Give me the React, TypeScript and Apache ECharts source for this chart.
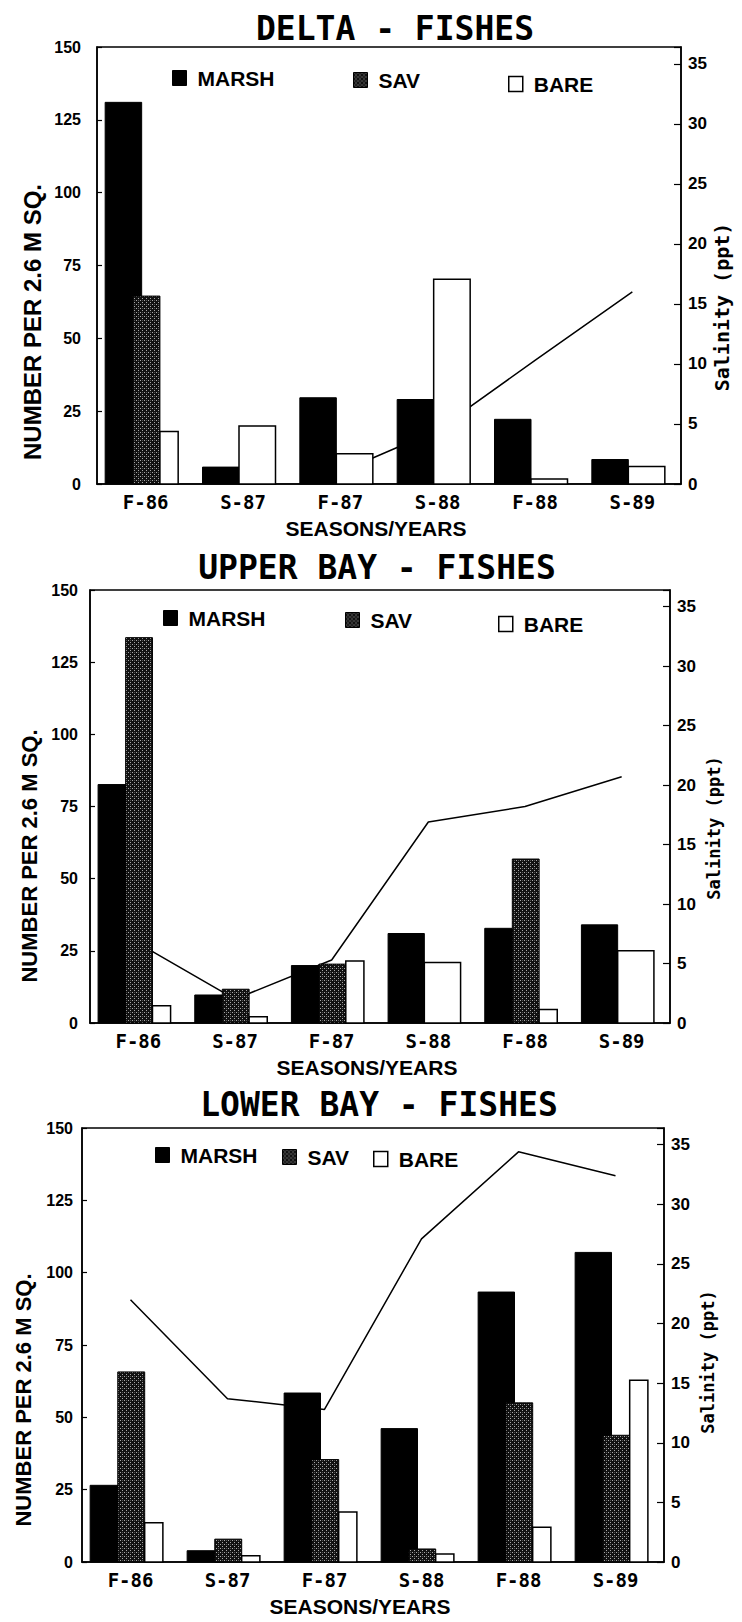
import React, { useEffect, useRef } from 'react';
import * as echarts from 'echarts';

// ---------- data ----------
const categories = ['F-86', 'S-87', 'F-87', 'S-88', 'F-88', 'S-89'];
const seriesNames = ['MARSH', 'SAV', 'BARE'];
const panelTitles = ['DELTA - FISHES', 'UPPER BAY - FISHES', 'LOWER BAY - FISHES'];

const deltaMarsh = [131, 5.8, 29.6, 29, 22.2, 8.4];
const deltaSav = [64.5, null, null, null, null, null];
const deltaBare = [18, 19.9, 10.4, 70.3, 1.7, 6];
const deltaSalinity = [null, null, 1.0, 4.5, 10.3, 16];

const upperMarsh = [82.6, 9.7, 19.9, 31, 32.8, 34];
const upperSav = [133.5, 11.7, 20.4, null, 56.8, null];
const upperBare = [6, 2.2, 21.5, 21, 4.7, 25];
const upperSalinity = [6.7, 2.0, 5.3, 16.9, 18.2, 20.7];

const lowerMarsh = [26.5, 3.9, 58.4, 46.1, 93.3, 107];
const lowerSav = [65.7, 7.9, 35.4, 4.5, 55, 43.8];
const lowerBare = [13.6, 2.2, 17.3, 2.8, 12, 62.8];
const lowerSalinity = [22, 13.7, 12.8, 27.1, 34.4, 32.4];

const countMin = 0;
const countMax = 150;
const countInterval = 25;
const salinityMin = 0;
const salinityMax = 36.4;
const salinityInterval = 5;

const yName = 'NUMBER PER 2.6 M SQ.';
const yRightName = 'Salinity (ppt)';
const xName = 'SEASONS/YEARS';

// ---------- layout / style ----------
const SANS = "'Liberation Sans', Arial, Helvetica, sans-serif";
const MONO = "'DejaVu Sans Mono', 'Liberation Mono', monospace";
const GROUP_RATIO = 0.75;
const GROUP_SHIFT = -4;

const panelLayout = [
  {
    grid: { left: 97, top: 47, width: 584, height: 437 },
    title: { x: 395, y: 28 },
    legend: [{ x: 172, y: 78 }, { x: 353, y: 80 }, { x: 508, y: 84 }],
    labelMargin: 16,
    yNamePos: { x: 32, y: 322, size: 24 },
    rNamePos: { x: 722, y: 307, size: 20 },
  },
  {
    grid: { left: 90, top: 590, width: 580, height: 433 },
    title: { x: 377, y: 567 },
    legend: [{ x: 163, y: 618 }, { x: 345, y: 620 }, { x: 498, y: 624 }],
    labelMargin: 12,
    yNamePos: { x: 29, y: 856, size: 22 },
    rNamePos: { x: 714, y: 828, size: 17 },
  },
  {
    grid: { left: 82, top: 1128, width: 582, height: 434 },
    title: { x: 379, y: 1104 },
    legend: [{ x: 155, y: 1155 }, { x: 282, y: 1157 }, { x: 373, y: 1159 }],
    labelMargin: 9,
    yNamePos: { x: 23, y: 1400, size: 22 },
    rNamePos: { x: 708, y: 1362, size: 17 },
  },
];

const panelData = [
  { marsh: deltaMarsh, sav: deltaSav, bare: deltaBare, sal: deltaSalinity },
  { marsh: upperMarsh, sav: upperSav, bare: upperBare, sal: upperSalinity },
  { marsh: lowerMarsh, sav: lowerSav, bare: lowerBare, sal: lowerSalinity },
];

function makePattern() {
  const c = document.createElement('canvas');
  c.width = 4;
  c.height = 4;
  const ctx = c.getContext('2d');
  if (ctx) {
    ctx.fillStyle = '#111';
    ctx.fillRect(0, 0, 4, 4);
    ctx.fillStyle = '#a8a8a8';
    ctx.fillRect(0, 0, 1, 1);
    ctx.fillRect(2, 2, 1, 1);
    ctx.fillStyle = '#505050';
    ctx.fillRect(2, 0, 1, 1);
  }
  return { image: c.toDataURL(), repeat: 'repeat', imageWidth: 4, imageHeight: 4 } as any;
}

export default function App() {
  const ref = useRef<HTMLDivElement>(null);

  useEffect(() => {
    if (!ref.current) return;
    const chart = echarts.init(ref.current, undefined, { renderer: 'svg' });
    const pattern = makePattern();

    const styles = [
      { fill: '#000', stroke: '#000', lineWidth: 1 },
      { fill: pattern, stroke: '#000', lineWidth: 1 },
      { fill: '#fff', stroke: '#000', lineWidth: 1.5 },
    ];
    const itemStyles = [
      { color: '#000', borderColor: '#000', borderWidth: 1 },
      { color: pattern, borderColor: '#000', borderWidth: 1 },
      { color: '#fff', borderColor: '#000', borderWidth: 1.5 },
    ];

    const makeRender = (kind: number) => (params: any, api: any) => {
      const idx = api.value(0);
      const val = api.value(1);
      const hasSav = api.value(2) === 1;
      const base = api.coord([idx, 0]);
      const top = api.coord([idx, val]);
      const band = api.size([1, 0])[0];
      const g = band * GROUP_RATIO;
      const cx = base[0] + GROUP_SHIFT;
      let a = -0.5;
      let b = 0;
      if (kind === 1) {
        a = -0.12;
        b = 0.25;
      } else if (kind === 2) {
        a = hasSav ? 0.25 : 0;
        b = 0.5;
      }
      const x0 = cx + a * g;
      const x1 = cx + b * g;
      return {
        type: 'rect',
        shape: { x: x0, y: top[1], width: x1 - x0, height: base[1] - top[1] },
        style: styles[kind],
      };
    };

    const grids: any[] = [];
    const xAxes: any[] = [];
    const yAxes: any[] = [];
    const series: any[] = [];
    const legends: any[] = [];
    const graphics: any[] = [];

    panelLayout.forEach((L, p) => {
      const D = panelData[p];
      grids.push({ ...L.grid, show: true, borderColor: '#000', borderWidth: 1.5, containLabel: false });
      xAxes.push({
        type: 'category',
        gridIndex: p,
        data: categories,
        axisLine: { show: true, lineStyle: { color: '#000', width: 1.5 } },
        axisTick: { show: false },
        axisLabel: {
          interval: 0,
          color: '#000',
          fontFamily: MONO,
          fontWeight: 'bold',
          fontSize: 19,
          margin: 8,
        },
        name: xName,
        nameLocation: 'middle',
        nameGap: 34,
        nameTextStyle: {
          color: '#000',
          fontFamily: SANS,
          fontWeight: 'bold',
          fontSize: 21,
          padding: [0, 26, 0, 0],
        },
      });
      yAxes.push({
        type: 'value',
        gridIndex: p,
        position: 'left',
        min: countMin,
        max: countMax,
        interval: countInterval,
        axisLine: { show: true, lineStyle: { color: '#000', width: 1.5 } },
        axisTick: { show: true, inside: true, length: 5, lineStyle: { color: '#000', width: 1.2 } },
        splitLine: { show: false },
        axisLabel: { color: '#000', fontFamily: SANS, fontWeight: 'bold', fontSize: 16, margin: L.labelMargin },
      });
      yAxes.push({
        type: 'value',
        gridIndex: p,
        position: 'right',
        min: salinityMin,
        max: salinityMax,
        interval: salinityInterval,
        axisLine: { show: true, lineStyle: { color: '#000', width: 1.5 } },
        axisTick: { show: true, inside: true, length: 7, lineStyle: { color: '#000', width: 1.2 } },
        splitLine: { show: false },
        axisLabel: {
          color: '#000',
          fontFamily: SANS,
          fontWeight: 'bold',
          fontSize: 17,
          margin: 7,
          formatter: (v: number) => (v % salinityInterval === 0 ? String(v) : ''),
        },
      });

      series.push({
        type: 'line',
        name: 'Salinity',
        xAxisIndex: p,
        yAxisIndex: p * 2 + 1,
        data: D.sal,
        symbol: 'none',
        lineStyle: { color: '#000', width: 1.5 },
        itemStyle: { color: '#000' },
        z: 2,
        silent: true,
      });

      const arrays = [D.marsh, D.sav, D.bare];
      arrays.forEach((arr, k) => {
        const data: any[] = [];
        arr.forEach((v, i) => {
          if (v !== null && v !== undefined) data.push([i, v, D.sav[i] !== null ? 1 : 0]);
        });
        series.push({
          type: 'custom',
          name: seriesNames[k],
          xAxisIndex: p,
          yAxisIndex: p * 2,
          data,
          encode: { x: 0, y: 1 },
          renderItem: makeRender(k),
          itemStyle: itemStyles[k],
          z: 3 + k,
          silent: true,
        });
        const pos = L.legend[k];
        legends.push({
          data: [{ name: seriesNames[k], icon: 'rect', itemStyle: itemStyles[k] }],
          left: pos.x,
          top: pos.y - 10.5,
          padding: 0,
          itemWidth: 14,
          itemHeight: 15,
          selectedMode: false,
          textStyle: {
            color: '#000',
            fontFamily: SANS,
            fontWeight: 'bold',
            fontSize: 21,
            padding: [0, 0, 0, 6],
          },
        });
      });

      graphics.push({
        type: 'text',
        x: L.title.x,
        y: L.title.y,
        style: {
          text: panelTitles[p],
          font: `bold 33px ${MONO}`,
          fill: '#000',
          textAlign: 'center',
          textVerticalAlign: 'middle',
          align: 'center',
          verticalAlign: 'middle',
        },
      });
      graphics.push({
        type: 'text',
        x: L.yNamePos.x,
        y: L.yNamePos.y,
        rotation: Math.PI / 2,
        style: {
          text: yName,
          font: `bold ${L.yNamePos.size}px ${SANS}`,
          fill: '#000',
          textAlign: 'center',
          textVerticalAlign: 'middle',
          align: 'center',
          verticalAlign: 'middle',
        },
      });
      graphics.push({
        type: 'text',
        x: L.rNamePos.x,
        y: L.rNamePos.y,
        rotation: Math.PI / 2,
        style: {
          text: yRightName,
          font: `bold ${L.rNamePos.size}px ${MONO}`,
          fill: '#000',
          textAlign: 'center',
          textVerticalAlign: 'middle',
          align: 'center',
          verticalAlign: 'middle',
        },
      });
    });

    chart.setOption({
      animation: false,
      backgroundColor: '#fff',
      grid: grids,
      xAxis: xAxes,
      yAxis: yAxes,
      legend: legends,
      series,
      graphic: graphics,
    });

    return () => chart.dispose();
  }, []);

  return (
    <div
      ref={ref}
      style={{ position: 'absolute', left: 0, top: 0, width: 742, height: 1622, background: '#fff' }}
    />
  );
}
